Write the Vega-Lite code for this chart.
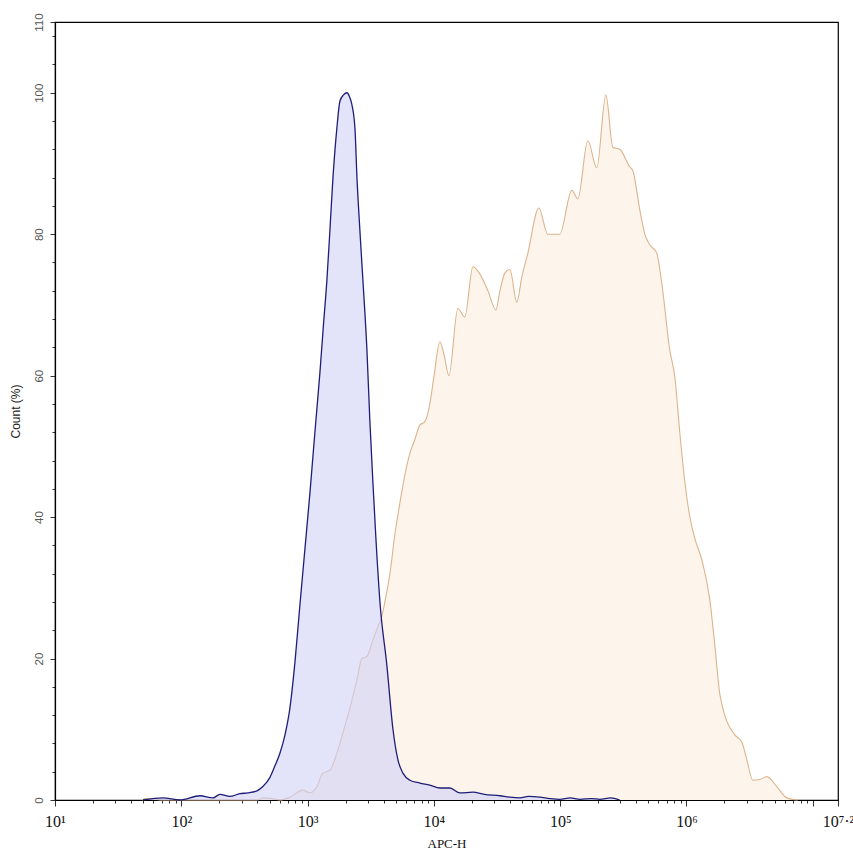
{
  "$schema": "https://vega.github.io/schema/vega-lite/v6.json",
  "autosize": "none",
  "width": 783,
  "height": 778,
  "padding": {"left": 55, "top": 22, "right": 15, "bottom": 56},
  "background": "white",
  "config": {
    "view": {"stroke": "black", "strokeWidth": 1.2},
    "axis": {"grid": false, "domainColor": "black", "tickColor": "#333", "domainWidth": 1.2}
  },
  "datasets": {
    "control": [
      {"logx": 1.697, "count": 0}, {"logx": 1.855, "count": 0.3}, {"logx": 1.989, "count": 0},
      {"logx": 2.148, "count": 0.6}, {"logx": 2.251, "count": 0.3}, {"logx": 2.306, "count": 0.8},
      {"logx": 2.385, "count": 0.5}, {"logx": 2.464, "count": 0.9}, {"logx": 2.528, "count": 1.0},
      {"logx": 2.599, "count": 1.3}, {"logx": 2.646, "count": 1.9}, {"logx": 2.702, "count": 3.2},
      {"logx": 2.741, "count": 4.8}, {"logx": 2.781, "count": 6.6}, {"logx": 2.821, "count": 9.2},
      {"logx": 2.860, "count": 13}, {"logx": 2.900, "count": 19.5}, {"logx": 2.939, "count": 27.5},
      {"logx": 2.979, "count": 35.5}, {"logx": 3.019, "count": 43.5}, {"logx": 3.058, "count": 52},
      {"logx": 3.098, "count": 60.5}, {"logx": 3.125, "count": 67}, {"logx": 3.153, "count": 73.5},
      {"logx": 3.177, "count": 80.6}, {"logx": 3.201, "count": 88}, {"logx": 3.232, "count": 95},
      {"logx": 3.256, "count": 98.8}, {"logx": 3.285, "count": 99.7}, {"logx": 3.311, "count": 100},
      {"logx": 3.335, "count": 99.3}, {"logx": 3.351, "count": 98.3}, {"logx": 3.375, "count": 95},
      {"logx": 3.391, "count": 88}, {"logx": 3.414, "count": 80.6}, {"logx": 3.438, "count": 73.5},
      {"logx": 3.470, "count": 63.6}, {"logx": 3.493, "count": 53.7}, {"logx": 3.517, "count": 45},
      {"logx": 3.541, "count": 37}, {"logx": 3.573, "count": 28}, {"logx": 3.628, "count": 19},
      {"logx": 3.676, "count": 10}, {"logx": 3.715, "count": 5.7}, {"logx": 3.755, "count": 3.8},
      {"logx": 3.810, "count": 2.8}, {"logx": 3.889, "count": 2.4}, {"logx": 3.968, "count": 2.1},
      {"logx": 4.048, "count": 1.7}, {"logx": 4.127, "count": 1.7}, {"logx": 4.206, "count": 1.0},
      {"logx": 4.309, "count": 1.1}, {"logx": 4.400, "count": 0.8}, {"logx": 4.523, "count": 0.6},
      {"logx": 4.600, "count": 0.4}, {"logx": 4.681, "count": 0.3}, {"logx": 4.750, "count": 0.5},
      {"logx": 4.839, "count": 0.4}, {"logx": 4.920, "count": 0.2}, {"logx": 4.997, "count": 0.1},
      {"logx": 5.080, "count": 0.3}, {"logx": 5.156, "count": 0.1}, {"logx": 5.250, "count": 0.2},
      {"logx": 5.314, "count": 0.1}, {"logx": 5.400, "count": 0.3}, {"logx": 5.472, "count": 0}
    ],
    "stained": [
      {"logx": 1.690, "count": 0}, {"logx": 1.720, "count": 0.2}, {"logx": 1.800, "count": 0.1},
      {"logx": 1.850, "count": 0}, {"logx": 2.600, "count": 0}, {"logx": 2.650, "count": 0.3},
      {"logx": 2.720, "count": 0.2}, {"logx": 2.781, "count": 0}, {"logx": 2.860, "count": 0.4},
      {"logx": 2.963, "count": 1.4}, {"logx": 3.019, "count": 1.0}, {"logx": 3.074, "count": 1.9},
      {"logx": 3.121, "count": 3.8}, {"logx": 3.177, "count": 4.2}, {"logx": 3.232, "count": 6.6},
      {"logx": 3.280, "count": 9.5}, {"logx": 3.335, "count": 13}, {"logx": 3.391, "count": 17},
      {"logx": 3.430, "count": 20}, {"logx": 3.470, "count": 20.3}, {"logx": 3.517, "count": 22.6},
      {"logx": 3.557, "count": 24.5}, {"logx": 3.588, "count": 26}, {"logx": 3.612, "count": 28},
      {"logx": 3.652, "count": 32}, {"logx": 3.691, "count": 37.5}, {"logx": 3.731, "count": 42},
      {"logx": 3.771, "count": 46}, {"logx": 3.810, "count": 49}, {"logx": 3.850, "count": 51},
      {"logx": 3.889, "count": 53}, {"logx": 3.929, "count": 53.5}, {"logx": 3.968, "count": 56},
      {"logx": 4.000, "count": 59.8}, {"logx": 4.048, "count": 64.8}, {"logx": 4.080, "count": 63},
      {"logx": 4.119, "count": 60}, {"logx": 4.190, "count": 69.5}, {"logx": 4.245, "count": 68.3},
      {"logx": 4.309, "count": 75.4}, {"logx": 4.356, "count": 74.6}, {"logx": 4.428, "count": 72},
      {"logx": 4.491, "count": 69.3}, {"logx": 4.523, "count": 72}, {"logx": 4.562, "count": 74.5},
      {"logx": 4.602, "count": 75}, {"logx": 4.657, "count": 70.4}, {"logx": 4.697, "count": 74},
      {"logx": 4.744, "count": 77.3}, {"logx": 4.831, "count": 83.7}, {"logx": 4.902, "count": 80},
      {"logx": 4.997, "count": 80}, {"logx": 5.092, "count": 86.2}, {"logx": 5.140, "count": 85},
      {"logx": 5.219, "count": 93.2}, {"logx": 5.290, "count": 89.4}, {"logx": 5.362, "count": 99.7},
      {"logx": 5.417, "count": 92.3}, {"logx": 5.472, "count": 92}, {"logx": 5.552, "count": 89.5},
      {"logx": 5.575, "count": 89}, {"logx": 5.631, "count": 83.4}, {"logx": 5.670, "count": 80},
      {"logx": 5.710, "count": 78.5}, {"logx": 5.765, "count": 77.3}, {"logx": 5.805, "count": 73},
      {"logx": 5.868, "count": 63.6}, {"logx": 5.908, "count": 59.8}, {"logx": 5.947, "count": 52},
      {"logx": 5.987, "count": 45}, {"logx": 6.027, "count": 40}, {"logx": 6.066, "count": 37},
      {"logx": 6.121, "count": 34}, {"logx": 6.185, "count": 28.3}, {"logx": 6.224, "count": 22},
      {"logx": 6.264, "count": 15}, {"logx": 6.288, "count": 13}, {"logx": 6.383, "count": 9.2},
      {"logx": 6.438, "count": 8.2}, {"logx": 6.478, "count": 5.7}, {"logx": 6.525, "count": 2.8},
      {"logx": 6.580, "count": 2.9}, {"logx": 6.636, "count": 3.3}, {"logx": 6.715, "count": 1.9},
      {"logx": 6.794, "count": 0.3}, {"logx": 6.881, "count": 0}
    ]
  },
  "encoding": {
    "x": {
      "field": "logx", "type": "quantitative",
      "scale": {"domain": [1, 7.2], "nice": false, "zero": false},
      "axis": {
        "title": "APC-H",
        "titleFont": "Liberation Serif", "titleFontSize": 13, "titleFontWeight": "normal", "titleColor": "#111",
        "titlePadding": 8,
        "labelFont": "Liberation Serif", "labelFontSize": 16, "labelColor": "#111",
        "labelOverlap": false, "labelFlush": false, "labelPadding": 7,
        "values": [1, 1.30103, 1.47712, 1.60206, 1.69897, 1.77815, 1.8451, 1.90309, 1.95424,
                   2, 2.30103, 2.47712, 2.60206, 2.69897, 2.77815, 2.8451, 2.90309, 2.95424,
                   3, 3.30103, 3.47712, 3.60206, 3.69897, 3.77815, 3.8451, 3.90309, 3.95424,
                   4, 4.30103, 4.47712, 4.60206, 4.69897, 4.77815, 4.8451, 4.90309, 4.95424,
                   5, 5.30103, 5.47712, 5.60206, 5.69897, 5.77815, 5.8451, 5.90309, 5.95424,
                   6, 6.30103, 6.47712, 6.60206, 6.69897, 6.77815, 6.8451, 6.90309, 6.95424,
                   7, 7.2],
        "labelExpr": "datum.value == 7.2 ? '10⁷·²' : ((abs(datum.value - round(datum.value)) < 0.001 && datum.value < 6.5) ? '10' + ['', '¹', '²', '³', '⁴', '⁵', '⁶'][round(datum.value)] : '')",
        "tickSize": {"condition": {"test": "abs(datum.value - round(datum.value)) < 0.001 || datum.value == 7.2", "value": 6}, "value": 3}
      }
    },
    "y": {
      "field": "count", "type": "quantitative",
      "scale": {"domain": [0, 110], "nice": false},
      "axis": {
        "title": "Count (%)",
        "titleFont": "Liberation Sans", "titleFontSize": 12, "titleFontWeight": "normal", "titleColor": "#222",
        "titlePadding": 11,
        "labelFont": "Liberation Sans", "labelFontSize": 11.5, "labelColor": "#555",
        "labelAngle": -90, "labelAlign": "center", "labelBaseline": "bottom", "labelPadding": 6,
        "labelOverlap": false,
        "values": [0, 4, 8, 12, 16, 20, 24, 28, 32, 36, 40, 44, 48, 52, 56, 60, 64, 68, 72, 76, 80, 84, 88, 92, 96, 100, 104, 108, 110],
        "labelExpr": "(datum.value % 20 == 0 || datum.value == 110) ? datum.value : ''",
        "tickSize": {"condition": {"test": "datum.value % 20 == 0 || datum.value == 110", "value": 5}, "value": 3}
      }
    }
  },
  "layer": [
    {"data": {"name": "stained"}, "mark": {"type": "area", "color": "#fdf5ec", "interpolate": "monotone"}},
    {"data": {"name": "stained"}, "mark": {"type": "line", "color": "#dcb48c", "strokeWidth": 1.1, "interpolate": "monotone"}},
    {"data": {"name": "control"}, "mark": {"type": "area", "color": "#d0d0f7", "opacity": 0.6, "interpolate": "monotone"}},
    {"data": {"name": "control"}, "mark": {"type": "line", "color": "#1e1e78", "strokeWidth": 1.3, "interpolate": "monotone"}}
  ]
}
